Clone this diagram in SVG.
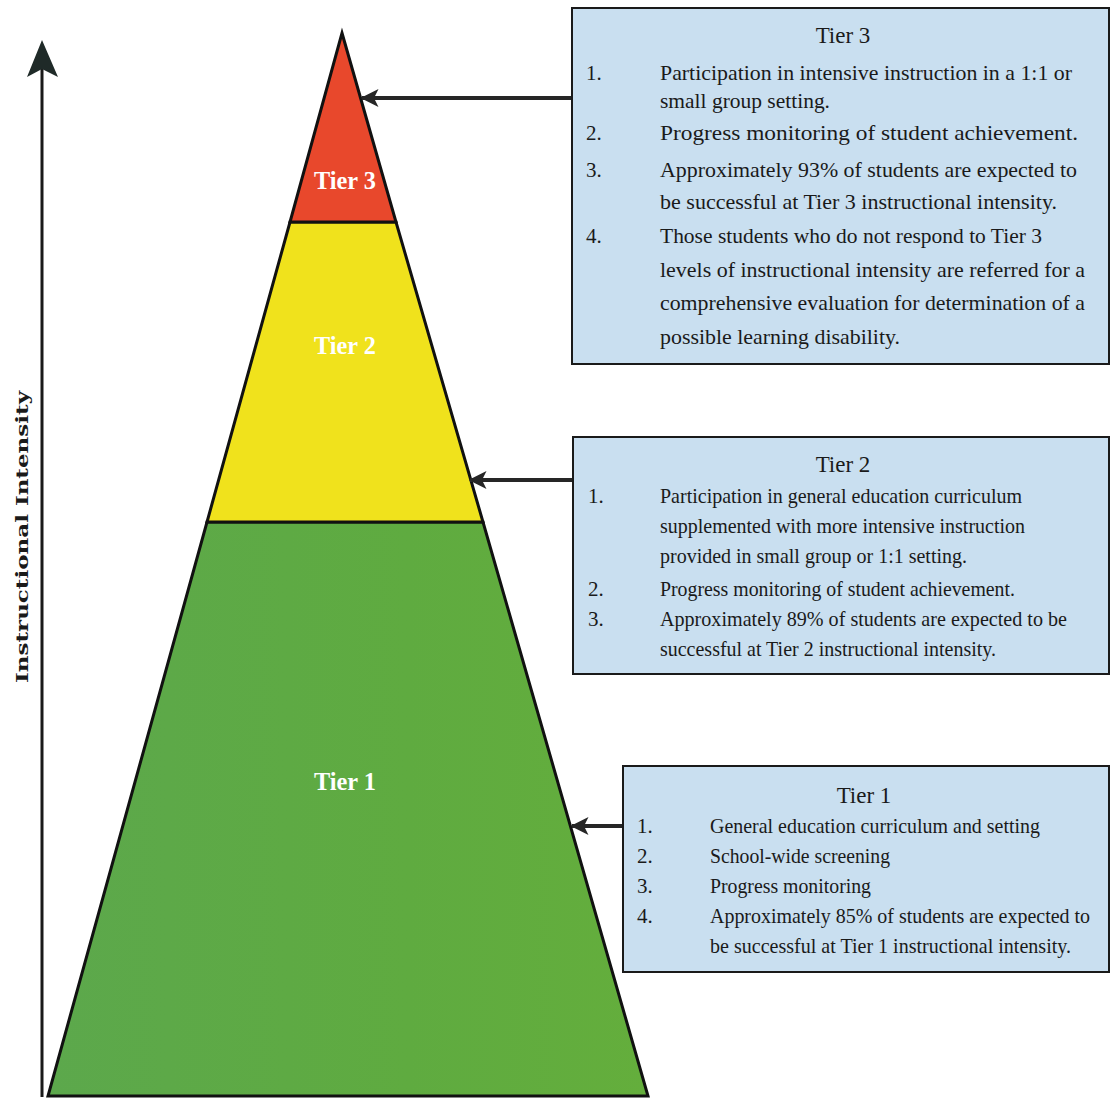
<svg xmlns="http://www.w3.org/2000/svg" width="1110" height="1100" viewBox="0 0 1110 1100">
<style>
.box{fill:#c9dff0;stroke:#1a1a1a;stroke-width:2}
.bt{font-family:"Liberation Serif","Times New Roman",serif;font-size:21px;fill:#1a1a1a}
.hd{font-family:"Liberation Serif","Times New Roman",serif;font-size:23px;fill:#1a1a1a;text-anchor:middle}
.pl{font-family:"Liberation Serif","Times New Roman",serif;font-size:25px;font-weight:bold;fill:#ffffff;text-anchor:middle}
.edge{fill:none;stroke:#262626;stroke-width:4}
.tier{stroke:#111;stroke-width:3;stroke-linejoin:miter}
</style>
<defs>
<marker id="ah" viewBox="0 0 12 12" refX="11" refY="6" markerWidth="4.5" markerHeight="4.5" orient="auto" markerUnits="strokeWidth">
<path d="M0,0 L12,6 L0,12 L3,6 Z" fill="#262626"/>
</marker>
<linearGradient id="gg" x1="0" y1="0" x2="1" y2="0">
<stop offset="0" stop-color="#5ca84c"/>
<stop offset="0.6" stop-color="#5fab40"/>
<stop offset="1" stop-color="#64ae3c"/>
</linearGradient>
</defs>
<rect width="1110" height="1100" fill="#ffffff"/>

<g id="axis">
<line x1="42" y1="1097" x2="42" y2="62" stroke="#1a1a1a" stroke-width="3"/>
<path d="M42,40 L58,77 L42,69 L27,77 Z" fill="#1f2a28"/>
<text transform="translate(28,537) rotate(-90)" font-family="'DejaVu Serif',serif" font-weight="bold" font-size="17" fill="#1a1a1a" text-anchor="middle" textLength="292" lengthAdjust="spacingAndGlyphs">Instructional Intensity</text>
</g>

<g id="tier1">
<polygon class="tier" points="207,522 483,522 648,1096 48,1096" fill="url(#gg)"/>
<text class="pl" x="345" y="790" textLength="62" lengthAdjust="spacingAndGlyphs">Tier 1</text>
</g>
<g id="tier2">
<polygon class="tier" points="290,222 396,222 483,522 207,522" fill="#f0e21c"/>
<text class="pl" x="345" y="354" textLength="62" lengthAdjust="spacingAndGlyphs">Tier 2</text>
</g>
<g id="tier3">
<polygon class="tier" points="342,33 396,222 290,222" fill="#e8482c"/>
<text class="pl" x="345" y="189" textLength="62" lengthAdjust="spacingAndGlyphs">Tier 3</text>
</g>

<g id="connectors">
<line class="edge" x1="573" y1="98" x2="362" y2="98" marker-end="url(#ah)"/>
<line class="edge" x1="573" y1="480" x2="470" y2="480" marker-end="url(#ah)"/>
<line class="edge" x1="623" y1="826" x2="572" y2="826" marker-end="url(#ah)"/>
</g>

<g id="box3">
<rect class="box" x="572" y="8" width="537" height="356"/>
<text class="hd" x="843" y="43">Tier 3</text>
<text class="bt" x="586" y="80">1.</text>
<text class="bt" x="660" y="80" textLength="412" lengthAdjust="spacingAndGlyphs">Participation in intensive instruction in a 1:1 or</text>
<text class="bt" x="660" y="108" textLength="170" lengthAdjust="spacingAndGlyphs">small group setting.</text>
<text class="bt" x="586" y="140">2.</text>
<text class="bt" x="660" y="140" textLength="418" lengthAdjust="spacingAndGlyphs">Progress monitoring of student achievement.</text>
<text class="bt" x="586" y="177">3.</text>
<text class="bt" x="660" y="177" textLength="417" lengthAdjust="spacingAndGlyphs">Approximately 93% of students are expected to</text>
<text class="bt" x="660" y="209" textLength="397" lengthAdjust="spacingAndGlyphs">be successful at Tier 3 instructional intensity.</text>
<text class="bt" x="586" y="243">4.</text>
<text class="bt" x="660" y="243" textLength="382" lengthAdjust="spacingAndGlyphs">Those students who  do not respond to Tier 3</text>
<text class="bt" x="660" y="277" textLength="425" lengthAdjust="spacingAndGlyphs">levels of instructional intensity are referred for a</text>
<text class="bt" x="660" y="310" textLength="425" lengthAdjust="spacingAndGlyphs">comprehensive evaluation for determination of a</text>
<text class="bt" x="660" y="344" textLength="240" lengthAdjust="spacingAndGlyphs">possible learning disability.</text>
</g>

<g id="box2">
<rect class="box" x="573" y="437" width="536" height="237"/>
<text class="hd" x="843" y="472">Tier 2</text>
<text class="bt" x="588" y="503">1.</text>
<text class="bt" x="660" y="503" textLength="362" lengthAdjust="spacingAndGlyphs">Participation in general education curriculum</text>
<text class="bt" x="660" y="533" textLength="365" lengthAdjust="spacingAndGlyphs">supplemented with more intensive instruction</text>
<text class="bt" x="660" y="563" textLength="307" lengthAdjust="spacingAndGlyphs">provided in small group or 1:1 setting.</text>
<text class="bt" x="588" y="596">2.</text>
<text class="bt" x="660" y="596" textLength="355" lengthAdjust="spacingAndGlyphs">Progress monitoring of student achievement.</text>
<text class="bt" x="588" y="626">3.</text>
<text class="bt" x="660" y="626" textLength="407" lengthAdjust="spacingAndGlyphs">Approximately 89% of students are expected to be</text>
<text class="bt" x="660" y="656" textLength="336" lengthAdjust="spacingAndGlyphs">successful at Tier 2 instructional intensity.</text>
</g>

<g id="box1">
<rect class="box" x="623" y="766" width="486" height="206"/>
<text class="hd" x="864" y="803">Tier 1</text>
<text class="bt" x="637" y="833">1.</text>
<text class="bt" x="710" y="833" textLength="330" lengthAdjust="spacingAndGlyphs">General education curriculum and setting</text>
<text class="bt" x="637" y="863">2.</text>
<text class="bt" x="710" y="863" textLength="180" lengthAdjust="spacingAndGlyphs">School-wide screening</text>
<text class="bt" x="637" y="893">3.</text>
<text class="bt" x="710" y="893" textLength="161" lengthAdjust="spacingAndGlyphs">Progress monitoring</text>
<text class="bt" x="637" y="923">4.</text>
<text class="bt" x="710" y="923" textLength="380" lengthAdjust="spacingAndGlyphs">Approximately 85% of students are expected to</text>
<text class="bt" x="710" y="953" textLength="361" lengthAdjust="spacingAndGlyphs">be successful at Tier 1 instructional intensity.</text>
</g>
</svg>
